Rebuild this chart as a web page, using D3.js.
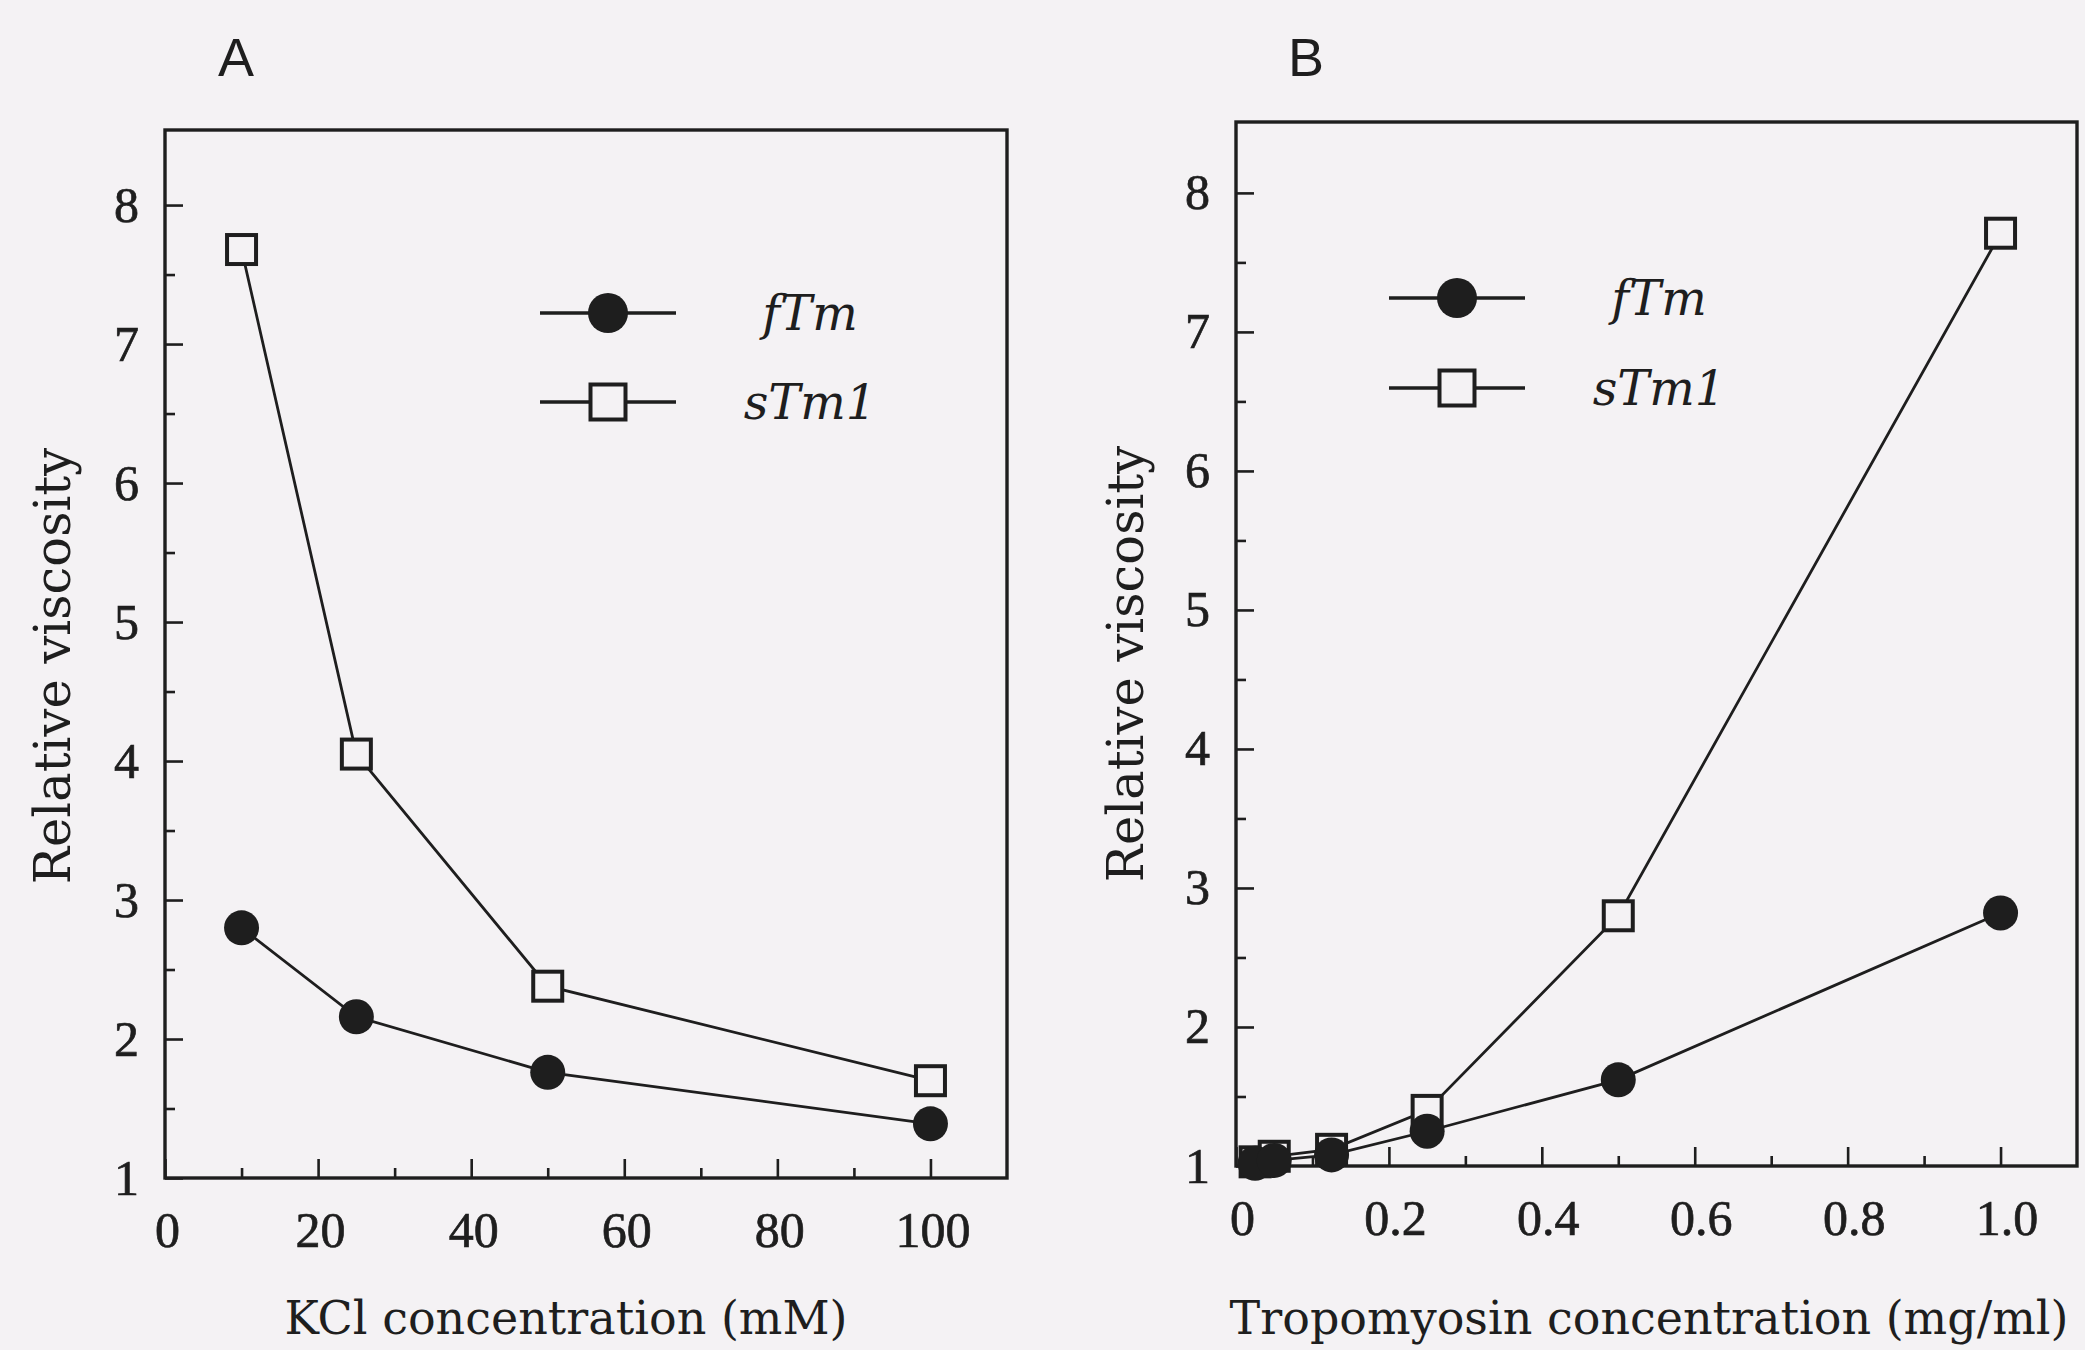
<!DOCTYPE html>
<html>
<head>
<meta charset="utf-8">
<script src="https://cdn.jsdelivr.net/npm/d3@7"></script>
<style>
  html, body { margin: 0; padding: 0; background: #f4f2f4; }
  svg { display: block; }
  .tick text { font-family: 'Liberation Serif', 'Times New Roman', serif; fill: #1e1e1e; }
  .axis-title { font-family: 'DejaVu Serif', serif; fill: #1e1e1e; }
  .legend-text { font-family: 'DejaVu Serif', serif; font-style: italic; fill: #1e1e1e; }
  .panel-label { font-family: 'Liberation Sans', Arial, sans-serif; fill: #1e1e1e; }
</style>
</head>
<body>
<svg id="chart" width="2085" height="1350"></svg>
<script>
// Panel A: viscosity vs KCl
var kclConc = [10, 25, 50, 100];
var kclFTm = [2.80, 2.16, 1.76, 1.39];
var kclSTm1 = [7.68, 4.05, 2.38, 1.70];

// Panel B: viscosity vs tropomyosin
var tmConc = [0.025, 0.05, 0.125, 0.25, 0.5, 1.0];
var tmFTm = [1.02, 1.04, 1.08, 1.25, 1.62, 2.82];
var tmSTm1 = [1.03, 1.07, 1.12, 1.40, 2.80, 7.71];

var yTicks = [1, 2, 3, 4, 5, 6, 7, 8];
var yMinorTicks = [1.5, 2.5, 3.5, 4.5, 5.5, 6.5, 7.5];
var kclTicks = [0, 20, 40, 60, 80, 100];
var kclMinorTicks = [10, 30, 50, 70, 90];
var tmTicks = [0, 0.2, 0.4, 0.6, 0.8, 1.0];
var tmTickLabels = ['0', '0.2', '0.4', '0.6', '0.8', '1.0'];
var tmMinorTicks = [0.1, 0.3, 0.5, 0.7, 0.9];

var seriesNames = ['fTm', 'sTm1'];
var ink = '#1e1e1e';
var paper = '#f4f2f4';

var svg = d3.select('#chart');

function zip(xs, ys) {
  return xs.map(function(x, i) { return [x, ys[i]]; });
}

function drawSquare(g, cx, cy, size) {
  g.append('rect')
    .attr('x', cx - size / 2)
    .attr('y', cy - size / 2)
    .attr('width', size)
    .attr('height', size)
    .attr('fill', paper)
    .attr('stroke', ink)
    .attr('stroke-width', 4);
}

function drawPanel(cfg) {
  var x = d3.scaleLinear().domain(cfg.xDomain).range([cfg.left, cfg.right]),
      y = d3.scaleLinear().domain(cfg.yDomain).range([cfg.bottom, cfg.top]),
      g = svg.append('g');

  // minor ticks first, then major with labels
  g.append('g')
    .attr('transform', 'translate(0,' + cfg.bottom + ')')
    .call(d3.axisBottom(x).tickValues(cfg.xMinor).tickSize(-10).tickFormat(''));
  var xAxis = g.append('g')
    .attr('transform', 'translate(0,' + cfg.bottom + ')')
    .call(d3.axisBottom(x).tickValues(cfg.xTicks).tickSize(-19).tickPadding(33)
      .tickFormat(function(d, i) { return cfg.xLabels[i]; }));
  xAxis.selectAll('.tick text').attr('dx', cfg.xLabelShift);
  g.append('g')
    .attr('transform', 'translate(' + cfg.left + ',0)')
    .call(d3.axisLeft(y).tickValues(yMinorTicks).tickSize(-10).tickFormat(''));
  g.append('g')
    .attr('transform', 'translate(' + cfg.left + ',0)')
    .call(d3.axisLeft(y).tickValues(yTicks).tickSize(-18).tickPadding(26)
      .tickFormat(d3.format('d')));

  g.selectAll('.domain').remove();
  g.selectAll('.tick line').attr('stroke', ink).attr('stroke-width', 2.6);
  g.selectAll('.tick text')
    .attr('font-size', 50)
    .attr('fill', ink)
    .attr('stroke', ink)
    .attr('stroke-width', 0.7);

  g.append('rect')
    .attr('x', cfg.left)
    .attr('y', cfg.top)
    .attr('width', cfg.right - cfg.left)
    .attr('height', cfg.bottom - cfg.top)
    .attr('fill', 'none')
    .attr('stroke', ink)
    .attr('stroke-width', 3.4);

  var line = d3.line()
    .x(function(d) { return x(d[0]); })
    .y(function(d) { return y(d[1]); });

  var circles = zip(cfg.xs, cfg.fTm),
      squares = zip(cfg.xs, cfg.sTm1);

  [squares, circles].forEach(function(pts) {
    g.append('path')
      .attr('d', line(pts))
      .attr('fill', 'none')
      .attr('stroke', ink)
      .attr('stroke-width', 2.8);
  });

  squares.forEach(function(d) { drawSquare(g, x(d[0]), y(d[1]), 29); });

  g.selectAll('circle.pt')
    .data(circles)
    .enter()
    .append('circle')
      .attr('class', 'pt')
      .attr('cx', function(d) { return x(d[0]); })
      .attr('cy', function(d) { return y(d[1]); })
      .attr('r', 17.5)
      .attr('fill', ink);

  // legend
  var lg = cfg.legend;
  [0, 1].forEach(function(i) {
    var ly = lg.y[i];
    g.append('line')
      .attr('x1', lg.x1).attr('x2', lg.x2)
      .attr('y1', ly).attr('y2', ly)
      .attr('stroke', ink)
      .attr('stroke-width', 3.4);
    if (i === 0) {
      g.append('circle')
        .attr('cx', lg.mx).attr('cy', ly)
        .attr('r', 20)
        .attr('fill', ink);
    } else {
      drawSquare(g, lg.mx, ly, 35);
    }
    g.append('text')
      .attr('class', 'legend-text')
      .attr('x', lg.tx)
      .attr('y', ly + 17)
      .attr('text-anchor', 'middle')
      .attr('font-size', 48)
      .text(seriesNames[i]);
  });

  // axis titles
  g.append('text')
    .attr('class', 'axis-title')
    .attr('transform', 'translate(' + cfg.yTitleX + ',' + cfg.yTitleY + ') rotate(-90)')
    .attr('text-anchor', 'middle')
    .attr('font-size', 49.5)
    .text('Relative viscosity');
  g.append('text')
    .attr('class', 'axis-title')
    .attr('x', cfg.xTitleX)
    .attr('y', 1334)
    .attr('text-anchor', 'middle')
    .attr('font-size', 46)
    .text(cfg.xTitle);

  g.append('text')
    .attr('class', 'panel-label')
    .attr('x', cfg.labelX)
    .attr('y', 76)
    .attr('text-anchor', 'middle')
    .attr('font-size', 54)
    .text(cfg.label);
}

drawPanel({
  label: 'A', labelX: 236,
  left: 165, right: 1007, top: 130, bottom: 1178,
  xDomain: [0, 110], yDomain: [1, 8.54],
  xTicks: kclTicks, xMinor: kclMinorTicks,
  xLabels: kclTicks.map(String), xLabelShift: 2,
  xs: kclConc, fTm: kclFTm, sTm1: kclSTm1,
  xTitle: 'KCl concentration (mM)', xTitleX: 566,
  yTitleX: 70, yTitleY: 666,
  legend: { x1: 540, x2: 676, mx: 608, tx: 810, y: [313, 402] }
});

drawPanel({
  label: 'B', labelX: 1306,
  left: 1236, right: 2077, top: 122, bottom: 1166,
  xDomain: [0, 1.1], yDomain: [1, 8.51],
  xTicks: tmTicks, xMinor: tmMinorTicks,
  xLabels: tmTickLabels, xLabelShift: 6,
  xs: tmConc, fTm: tmFTm, sTm1: tmSTm1,
  xTitle: 'Tropomyosin concentration (mg/ml)', xTitleX: 1649,
  yTitleX: 1143, yTitleY: 664,
  legend: { x1: 1389, x2: 1525, mx: 1457, tx: 1659, y: [298, 388] }
});
</script>
</body>
</html>
